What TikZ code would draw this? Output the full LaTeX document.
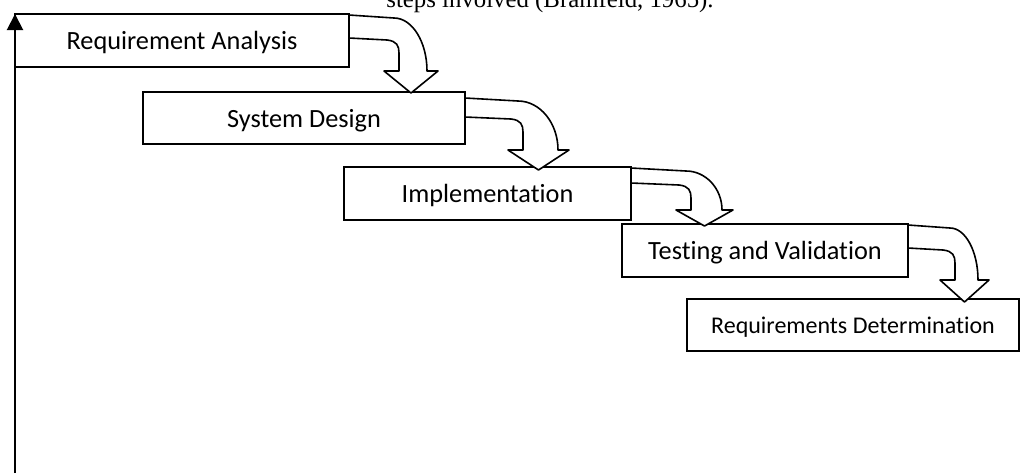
\documentclass[tikz,border=0pt]{standalone}
\usepackage{fontspec}
\setmainfont{Carlito}[Ligatures=NoCommon]
\newfontfamily\titlefont{Liberation Serif}
\usetikzlibrary{arrows.meta}
% bent block arrow: node, outer y, inner y, inner x, outer x, head base y, tip y
\newcommand{\bentarrow}[7]{%
	\begin{scope}[shift={(#1.north east)}]
		\draw[bent] (0,#2) -- ({#4-5},{#2+3}) .. controls ({#4-5+0.55*(#5-#4+5)},{#2+3}) and (#5,{#6-0.55*(#6-#2-3)}) .. (#5,#6)
			-- ({#5+11},#6) -- ({(#4+#5-4)/2},#7) -- ({#4-15},#6) -- (#4,#6)
			-- (#4,{#3+15}) .. controls (#4,{#3+8}) and ({#4-2},{#3+3}) .. ({#4-12},{#3+2}) -- (0,#3) -- cycle;
	\end{scope}}

\begin{document}
\begin{tikzpicture}[x=0.5pt, y=-0.5pt,
		stage/.style={draw, line width=1pt, inner sep=0pt, outer sep=0pt, text depth=0pt, font=\fontsize{13.15}{15}\selectfont},
		bent/.style={fill=white, line width=0.8pt, line join=round}]
	\useasboundingbox (0,0) rectangle (1021,473);
	\clip (0,0) rectangle (1021,473);
	%caption line cut by the page
	\node[anchor=base, inner sep=0pt, font=\titlefont\fontsize{12.4}{14}\selectfont] (caption) at (550,7) {steps involved (Bramfeld, 1965).};
	%stages
	\node[stage, minimum width=167pt, minimum height=26.5pt] (analysis) at (182,40.5) {Requirement Analysis};
	\node[stage, minimum width=161pt, minimum height=26pt] (design) at (304,118) {System Design};
	\node[stage, minimum width=143.5pt, minimum height=26.5pt] (impl) at (487.5,193.5) {Implementation};
	\node[stage, minimum width=143pt, minimum height=26.5pt] (testing) at (765,250.5) {Testing and Validation};
	\node[stage, minimum width=166pt, minimum height=26pt, font=\fontsize{12}{14}\selectfont] (determ) at (853,325) {Requirements Determination};
	%bent arrows
	\bentarrow{analysis}{1}{24}{50}{78}{57}{79}
	\bentarrow{design}{6}{25}{58}{93}{58}{78}
	\bentarrow{impl}{1}{16}{60}{91}{43}{59}
	\bentarrow{testing}{1}{24}{47}{70}{56}{78}
	%feedback line
	\coordinate (base) at (15,473);
	\draw[line width=1pt, -{Triangle[length=8pt,width=8pt]}] (base) -- (analysis.north west);
\end{tikzpicture}
\end{document}
